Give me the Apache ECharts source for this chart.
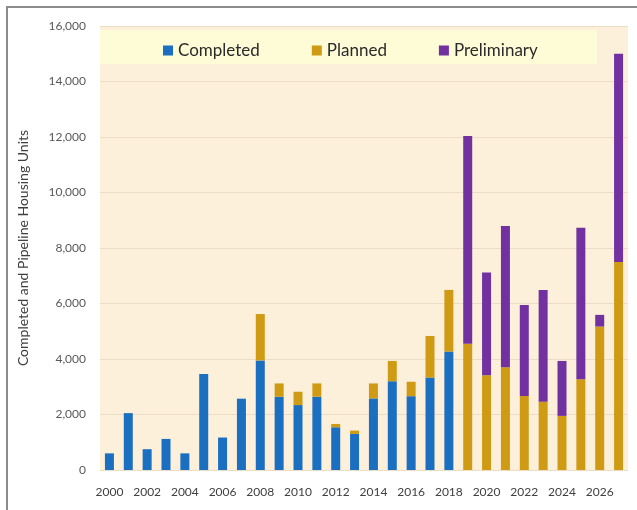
<!DOCTYPE html>
<html>
<head>
<meta charset="utf-8">
<script src="https://cdn.jsdelivr.net/npm/echarts@6/dist/echarts.min.js"></script>
<style>
html,body{margin:0;padding:0;background:#fff;}
#frame{position:absolute;left:6px;top:6px;width:640px;height:520px;border-top:2px solid #8c8c8c;border-left:2px solid #8c8c8c;}
#chart{position:absolute;left:0;top:0;width:637px;height:510px;}
</style>
</head>
<body>
<div id="frame"></div>
<div id="chart"></div>
<script>
const years = ['2000','2001','2002','2003','2004','2005','2006','2007','2008','2009','2010','2011','2012','2013','2014','2015','2016','2017','2018','2019','2020','2021','2022','2023','2024','2025','2026','2027'];
const completed = [600,2050,750,1120,600,3460,1170,2570,3950,2640,2340,2640,1540,1300,2580,3200,2660,3330,4270,0,0,0,0,0,0,0,0,0];
const planned = [0,0,0,0,0,0,0,0,1670,480,480,480,120,120,540,730,520,1500,2220,4550,3410,3700,2670,2460,1950,3270,5170,7500];
const preliminary = [0,0,0,0,0,0,0,0,0,0,0,0,0,0,0,0,0,0,0,7490,3710,5090,3280,4030,1980,5460,420,7500];
const yTicks = [0,2000,4000,6000,8000,10000,12000,14000,16000];

const chart = echarts.init(document.getElementById('chart'), null, {renderer:'canvas'});
const font = 'Lato, "Open Sans", sans-serif';
chart.setOption({
  animation:false,
  backgroundColor:'transparent',
  graphic:[
    {type:'rect', left:100, top:30, z:1, shape:{width:497, height:34}, style:{fill:'#fefcd6'}}
  ],
  grid:{left:100, right:9, top:26, bottom:40, show:true, backgroundColor:'#fcf0da', borderWidth:0},
  legend:{
    top:37, left:158, itemGap:52, itemWidth:10, itemHeight:10, icon:'rect', z:5,
    textStyle:{fontFamily:font, fontSize:17, color:'#2a2a2a'},
    data:['Completed','Planned','Preliminary']
  },
  xAxis:{
    type:'category', data:years,
    axisTick:{show:false},
    axisLine:{show:false},
    axisLabel:{interval:1, fontFamily:font, fontSize:12, color:'#404040', margin:16}
  },
  yAxis:{
    type:'value', min:yTicks[0], max:yTicks[yTicks.length-1], interval:2000,
    name:'Completed and Pipeline Housing Units', nameLocation:'middle', nameGap:70,
    nameTextStyle:{fontFamily:font, fontSize:14, color:'#404040'},
    axisLabel:{fontFamily:font, fontSize:12, color:'#595959', margin:14,
      formatter:v=>v.toLocaleString('en-US')},
    splitLine:{lineStyle:{color:'#ecdcc4', width:1}},
    axisLine:{show:false}, axisTick:{show:false}
  },
  series:[
    {name:'Completed', type:'bar', stack:'s', data:completed, barWidth:9, z:3, itemStyle:{color:'#1b6fc0'}},
    {name:'Planned', type:'bar', stack:'s', data:planned, barWidth:9, z:3, itemStyle:{color:'#cf9a14'}},
    {name:'Preliminary', type:'bar', stack:'s', data:preliminary, barWidth:9, z:3, itemStyle:{color:'#7131a1'}}
  ]
});
</script>
</body>
</html>
